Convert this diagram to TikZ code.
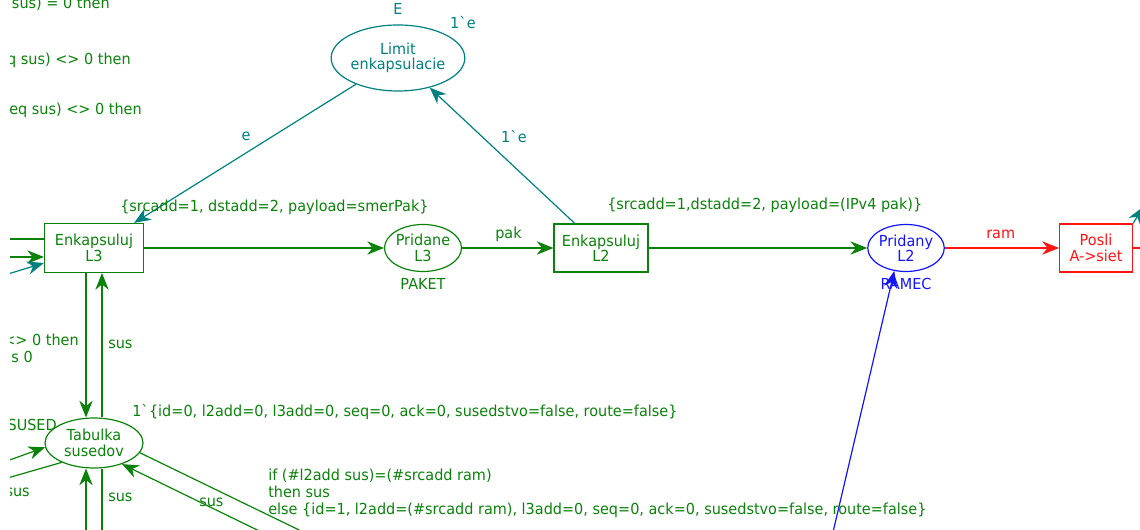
\documentclass[tikz,border=0pt]{standalone}
\usepackage{fontspec}
\setmainfont{DejaVu Sans}[FakeStretch=0.95]
\usetikzlibrary{shapes.geometric,arrows.meta,calc}
\definecolor{netgreen}{RGB}{10,130,10}
\definecolor{netteal}{RGB}{0,128,128}
\definecolor{netblue}{RGB}{20,20,255}
\definecolor{netred}{RGB}{255,20,20}
\tikzset{
  trans/.style={draw, rectangle, line width=0.9pt, inner sep=0pt, align=center},
  place/.style={draw, ellipse, line width=0.9pt, inner sep=0pt, align=center},
  arcline/.style={line width=0.9pt},
  tip/.style={-{Stealth[length=12.5pt,width=10pt,inset=4pt]}},
  lbl/.style={inner sep=0pt},
}
\begin{document}
\begin{tikzpicture}[x=0.75pt,y=-0.75pt,font=\fontsize{11.4}{11.6}\selectfont]
\useasboundingbox (0,0) rectangle (1140,530);
\clip (10,0) rectangle (1140,530);

% places and transitions
\node[place, netteal, text=netteal, minimum width=99pt, minimum height=49.5pt] (lim) at (398,58) {Limit\\enkapsulacie};
\node[trans, netgreen, text=netgreen, minimum width=74.25pt, minimum height=36.75pt] (enk3) at (94,248) {Enkapsuluj\\L3};
\node[place, netgreen, text=netgreen, minimum width=54pt, minimum height=35.25pt] (pr3) at (423,248) {Pridane\\L3};
\node[trans, netgreen, text=netgreen, minimum width=70.5pt, minimum height=36pt] (enk2) at (601,248) {Enkapsuluj\\L2};
\node[place, netblue, text=netblue, minimum width=54pt, minimum height=35.25pt] (pr2) at (906,248) {Pridany\\L2};
\node[trans, netred, text=netred, minimum width=54.75pt, minimum height=36pt] (posli) at (1096,248) {Posli\\A->siet};
\node[place, netgreen, text=netgreen, minimum width=73.5pt, minimum height=37.5pt] (tab) at (94,443) {Tabulka\\susedov};

% free ends of arcs leaving the visible area
\coordinate (l1) at (-5,239);
\coordinate (l2) at (-5,257);
\coordinate (l3) at (-5,278);
\coordinate (va) at (86,0);
\coordinate (vb) at (102,0);
\coordinate (ba) at (86,545);
\coordinate (bb) at (102,545);
\coordinate (tl1) at (-10,467);
\coordinate (tl2) at (-10,483);
\coordinate (tr1) at (330,545);
\coordinate (tr2) at (288,545);
\coordinate (bl) at (830,545);
\coordinate (rout) at (1150,248);
\coordinate (tr) at (1143,207);

% arcs
\draw[arcline, netteal, tip] (lim) -- (enk3);
\draw[arcline, netteal, tip] (enk2) -- (lim);
\draw[arcline, netgreen, tip] (enk3) -- (pr3);
\draw[arcline, netgreen, tip] (pr3) -- (enk2);
\draw[arcline, netgreen, tip] (enk2) -- (pr2);
\draw[arcline, netred, tip] (pr2) -- (posli);
\draw[arcline, netred] (posli) -- (rout);
\draw[arcline, netteal, tip] (posli.north east) -- (tr);
\draw[arcline, netblue, tip] (bl) -- (pr2.243);

\draw[arcline, netgreen] (l1) -- (l1 -| enk3.west);
\draw[arcline, netgreen, tip] (l2) -- (l2 -| enk3.west);
\draw[arcline, netteal, tip] (l3) -- ($(enk3.west)+(0,15)$);

\draw[arcline, netgreen, tip] (enk3.south -| va) -- (tab.north -| va);
\draw[arcline, netgreen, tip] (tab.north -| vb) -- (enk3.south -| vb);
\draw[arcline, netgreen, tip] (ba) -- (tab.south -| va);
\draw[arcline, netgreen] (tab.south -| vb) -- (bb);

\draw[arcline, netgreen, tip] (tl1) -- (tab.185);
\draw[arcline, netgreen] (tab.211) -- (tl2);
\draw[arcline, netgreen] (tab.348) -- (tr1);
\draw[arcline, netgreen, tip] (tr2) -- (tab.323);

% inscriptions
\node[lbl, netteal, anchor=base] at (398,15) {E};
\node[lbl, netteal, anchor=base] at (463,29) {1\textasciigrave e};
\node[lbl, netteal] at (246,136) {e};
\node[lbl, netteal] at (514,137) {1\textasciigrave e};

\node[lbl, netgreen, anchor=base west] at (120,212) {\{srcadd=1, dstadd=2, payload=smerPak\}};
\node[lbl, netgreen, anchor=base west] at (607,210) {\{srcadd=1,dstadd=2, payload=(IPv4 pak)\}};
\node[lbl, netgreen, anchor=base west] at (495,239) {pak};
\node[lbl, netred, anchor=base west] at (986,239) {ram};
\node[lbl, netgreen, anchor=base] at (423,290) {PAKET};
\node[lbl, netblue, anchor=base] at (906,290) {RAMEC};

\node[lbl, netgreen, anchor=base east] at (110,9) {sus) = 0 then};
\node[lbl, netgreen, anchor=base east] at (131,65) {q sus) <> 0 then};
\node[lbl, netgreen, anchor=base east] at (142,115) {eq sus) <> 0 then};

\node[lbl, netgreen, anchor=base east] at (79,346) {<> 0 then};
\node[lbl, netgreen, anchor=base east] at (33,363) {s 0};
\node[lbl, netgreen, anchor=base west] at (108,349) {sus};
\node[lbl, netgreen, anchor=base east] at (57,431) {SUSED};
\node[lbl, netgreen, anchor=base west] at (132,417) {1\textasciigrave\{id=0, l2add=0, l3add=0, seq=0, ack=0, susedstvo=false, route=false\}};
\node[lbl, netgreen, anchor=base east] at (30,497) {sus};
\node[lbl, netgreen, anchor=base west] at (108,502) {sus};
\node[lbl, netgreen, anchor=base west] at (199,507) {sus};
\node[lbl, netgreen, anchor=north west, align=left, font=\fontsize{11.4}{12.75}\selectfont] at (268,469)
  {if (\#l2add sus)=(\#srcadd ram)\\then sus\\else \{id=1, l2add=(\#srcadd ram), l3add=0, seq=0, ack=0, susedstvo=false, route=false\}};
\end{tikzpicture}
\end{document}
